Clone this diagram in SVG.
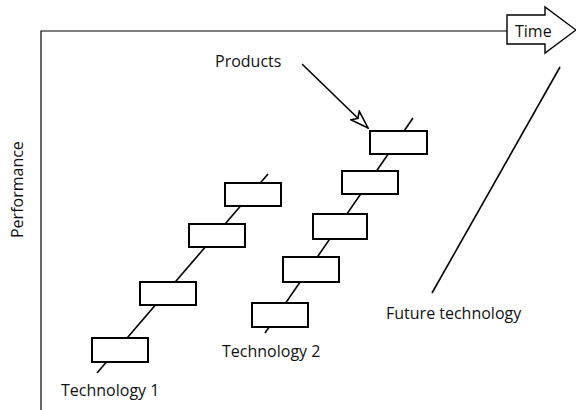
<svg xmlns="http://www.w3.org/2000/svg" width="576" height="410" viewBox="0 0 576 410">
<style>
.t{font-family:"Open Sans","Noto Sans",sans-serif;font-size:16px;fill:#111}
.box{fill:#fff;stroke:#000;stroke-width:2}
.ln{stroke:#000;stroke-width:1.6;fill:none}
.ax{stroke:#000;stroke-width:1.2;fill:none}
</style>
<defs>
<marker id="hollow" viewBox="0 0 20 14" refX="19" refY="7" markerWidth="20" markerHeight="14" markerUnits="userSpaceOnUse" orient="auto">
<path d="M1,1 L19,7 L1,13 L5,7 Z" fill="#fff" stroke="#000" stroke-width="1.6" stroke-linejoin="miter"/>
</marker>
</defs>
<rect width="576" height="410" fill="#fff"/>
<g id="axes">
<path class="ax" d="M41,410 V31 H507"/>
</g>
<g id="time">
<path d="M507,15 H545 V7 L576,30 L545,53 V44 H507 Z" fill="#fff" stroke="#000" stroke-width="1.4"/>
<text class="t" x="515" y="37">Time</text>
</g>
<text class="t" transform="translate(23,238) rotate(-90)">Performance</text>
<g id="connectors">
<line class="ln" x1="97" y1="373" x2="268" y2="174"/>
<line class="ln" x1="265" y1="333" x2="413" y2="118"/>
<line class="ln" x1="432" y1="293" x2="560" y2="67"/>
<line class="ln" x1="302" y1="64" x2="368" y2="128" marker-end="url(#hollow)"/>
</g>
<g id="tech1">
<rect class="box" x="92" y="338" width="56" height="24"/>
<rect class="box" x="140" y="282" width="56" height="23"/>
<rect class="box" x="189" y="224" width="56" height="23"/>
<rect class="box" x="225" y="183" width="56" height="23"/>
</g>
<g id="tech2">
<rect class="box" x="252" y="303" width="56" height="24"/>
<rect class="box" x="283" y="257" width="56" height="25"/>
<rect class="box" x="313" y="214" width="54" height="25"/>
<rect class="box" x="342" y="171" width="56" height="23"/>
<rect class="box" x="370" y="131" width="57" height="23"/>
</g>
<text class="t" x="215" y="67">Products</text>
<text class="t" x="61" y="396">Technology 1</text>
<text class="t" x="222" y="357">Technology 2</text>
<text class="t" x="386" y="319">Future technology</text>
</svg>
